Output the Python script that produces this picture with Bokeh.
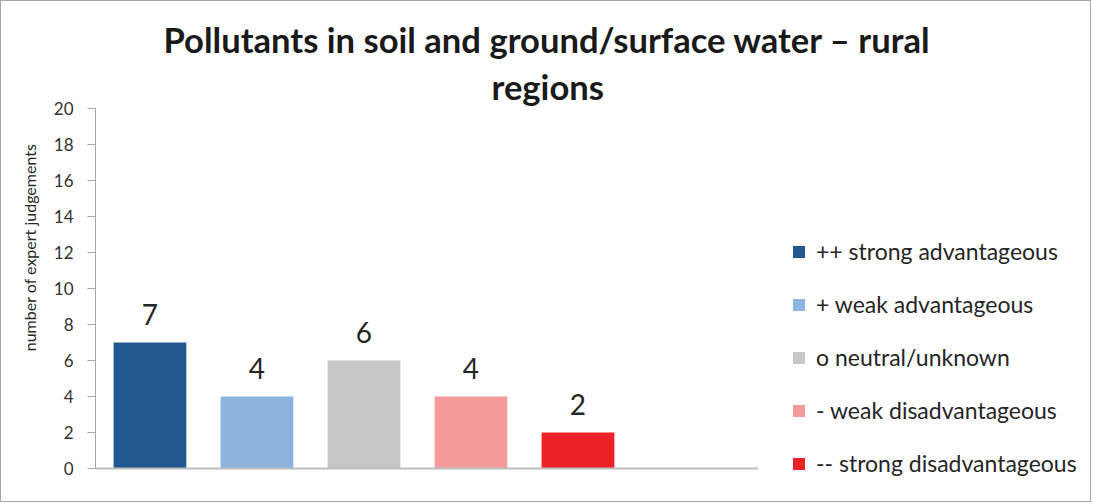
from bokeh.plotting import figure
from bokeh.models import ColumnDataSource, Range1d, FixedTicker, LabelSet, Title
from bokeh.embed import file_html
from bokeh.resources import INLINE
from bokeh.core.properties import value

# ---- data ----
categories = [
    "++ strong advantageous",
    "+ weak advantageous",
    "o neutral/unknown",
    "- weak disadvantageous",
    "-- strong disadvantageous",
]
counts = [7, 4, 6, 4, 2]
bar_colors = ["#23578f", "#8db3df", "#c6c7c9", "#f59a9a", "#ed2226"]
y_ticks = [0, 2, 4, 6, 8, 10, 12, 14, 16, 18, 20]
title_lines = ["Pollutants in soil and ground/surface water \u2013 rural", "regions"]
y_label = "number of expert judgements"

FONT = "Lato"

source = ColumnDataSource(dict(
    x=list(range(len(categories))),
    count=counts,
    category=categories,
    color=bar_colors,
    label=[str(c) for c in counts],
))

# the frame spans the bar area and the legend area (legend lives inside it)
p = figure(
    width=1091, height=502,
    x_range=Range1d(-0.509, 8.743),
    y_range=Range1d(-0.778, 20),
    output_backend="svg",
    toolbar_location=None,
    min_border_left=94, min_border_right=7,
    min_border_top=107, min_border_bottom=21,
)
p.styles = {"border": "1px solid #a6a6a6"}
p.outline_line_color = None
p.xgrid.grid_line_color = None
p.ygrid.grid_line_color = None

p.vbar(x="x", top="count", width=0.68, bottom=0, source=source,
       fill_color="color", line_color=None, legend_field="category")

labels = LabelSet(x="x", y="count", text="label", source=source,
                  y_offset=17, text_align="center", text_baseline="alphabetic",
                  text_font=value(FONT), text_font_size="28px", text_color="#262626")
p.add_layout(labels)

# axes
p.xaxis.fixed_location = 0
p.xaxis.bounds = (-0.509, 5.687)
p.xaxis.ticker = FixedTicker(ticks=[])
p.xaxis.major_label_text_font_size = "0px"
p.xaxis.axis_line_color = "#bdbdbd"
p.xaxis.axis_line_width = 2
p.xaxis.major_tick_line_color = None
p.xaxis.minor_tick_line_color = None

p.yaxis.bounds = (0, 20)
p.yaxis.ticker = FixedTicker(ticks=y_ticks)
p.yaxis.axis_line_color = "#a6a6a6"
p.yaxis.major_tick_line_color = "#a6a6a6"
p.yaxis.major_tick_out = 8
p.yaxis.major_tick_in = 0
p.yaxis.minor_tick_line_color = None
p.yaxis.major_label_standoff = 14
p.yaxis.major_label_text_font = FONT
p.yaxis.major_label_text_font_size = "17px"
p.yaxis.major_label_text_color = "#333333"

# title lines (stacked above the frame; first added sits nearest the frame)
t2 = Title(text=title_lines[1], align="left", offset=396, vertical_align="bottom",
           standoff=4, text_font=FONT, text_font_size="34.6px", text_font_style="bold",
           text_color="#1a1a1a")
t1 = Title(text=title_lines[0], align="left", offset=68, vertical_align="bottom",
           standoff=4, text_font=FONT, text_font_size="34.6px", text_font_style="bold",
           text_color="#1a1a1a")
p.add_layout(t2, "above")
p.add_layout(t1, "above")

# y axis label, positioned like the original (offset from the top of the frame)
ty = Title(text=y_label, align="right", offset=35, vertical_align="bottom",
           standoff=24, text_font=FONT, text_font_size="16px", text_font_style="normal",
           text_color="#262626")
p.add_layout(ty, "left")

leg = p.legend[0]
leg.location = (696, 4)
leg.orientation = "vertical"
leg.border_line_color = None
leg.background_fill_alpha = 0
leg.padding = 0
leg.margin = 0
leg.spacing = 23
leg.glyph_width = 15
leg.glyph_height = 15
leg.label_height = 30
leg.label_standoff = 10
leg.label_text_font = FONT
leg.label_text_font_size = "23px"
leg.label_text_color = "#262626"

open("out.html", "w").write(file_html(p, INLINE))
